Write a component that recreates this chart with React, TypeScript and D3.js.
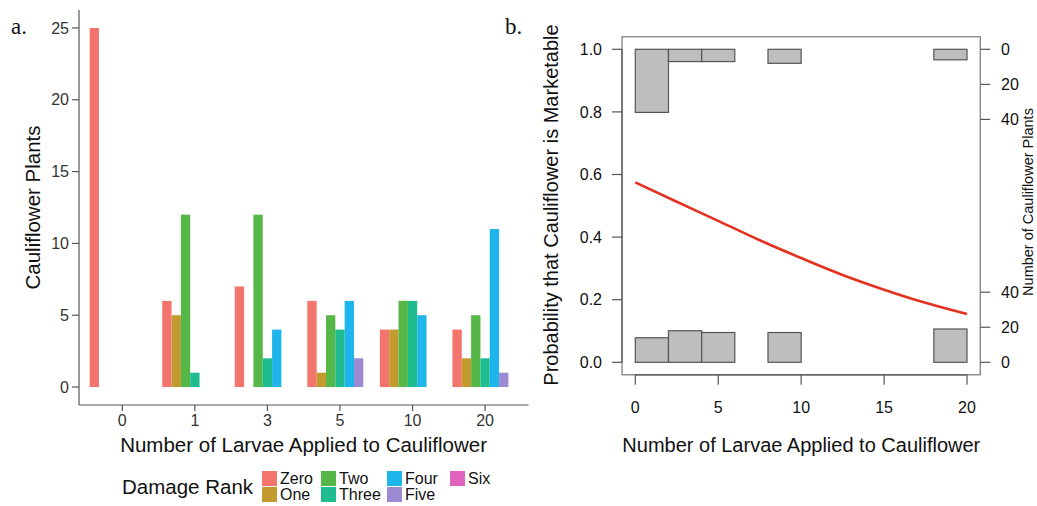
import React from "react";
import * as d3 from "d3";

// ---------- Panel a data ----------
const larvae = ["0", "1", "3", "5", "10", "20"];
const ranks = ["Zero", "One", "Two", "Three", "Four", "Five", "Six"];
const rankColors = ["#F2746C", "#C39A2E", "#55B748", "#1EBC8F", "#1DB5EA", "#9C8BD2", "#E063C0"];
const zeroCounts = [25, 6, 7, 6, 4, 4];
const oneCounts = [0, 5, 0, 1, 4, 2];
const twoCounts = [0, 12, 12, 5, 6, 5];
const threeCounts = [0, 1, 2, 4, 6, 2];
const fourCounts = [0, 0, 4, 6, 5, 11];
const fiveCounts = [0, 0, 0, 2, 0, 1];
const sixCounts = [0, 0, 0, 0, 0, 0];
const countSeries = [zeroCounts, oneCounts, twoCounts, threeCounts, fourCounts, fiveCounts, sixCounts];
const yTicksA = [0, 5, 10, 15, 20, 25];

// ---------- Panel b data ----------
const curveX = [0, 2.5, 5, 7.5, 10, 12.5, 15, 17.5, 20];
const curveP = [0.575, 0.513, 0.452, 0.39, 0.333, 0.279, 0.232, 0.19, 0.154];
const binStarts = [0, 2, 4, 8, 18];
const binWidth = 2;
const marketableCounts = [36, 7, 7, 8, 6];
const unmarketableCounts = [14, 18, 17, 17, 19];
const xTicksB = [0, 5, 10, 15, 20];
const yTicksB = [0, 0.2, 0.4, 0.6, 0.8, 1.0];
const countTicks = [0, 20, 40];
const probPerCount = 0.0056;

const SANS = "'Liberation Sans', Arial, Helvetica, sans-serif";
const SERIF = "'Liberation Serif', 'Times New Roman', serif";

export default function App() {
  // Panel a scales
  const xA = d3.scalePoint<string>().domain(larvae).range([122.3, 485.1]);
  const stepA = xA.step();
  const inner = d3.scaleBand<string>().domain(ranks).range([-0.45 * stepA, 0.45 * stepA]);
  const yA = d3.scaleLinear().domain([-1.25, 26.25]).range([405, 10]);

  // Panel b scales
  const xB = d3.scaleLinear().domain([0, 20]).range([635.3, 967]);
  const yB = d3.scaleLinear().domain([0, 1]).range([362.3, 49.3]);
  const boxL = xB(-0.8), boxR = xB(20.8), boxT = yB(1.04), boxB = yB(-0.04);
  const line = d3
    .line<number>()
    .x((_, i) => xB(curveX[i]))
    .y((d) => yB(d))
    .curve(d3.curveMonotoneX);

  const legendCols = [
    [0, 1],
    [2, 3],
    [4, 5],
    [6],
  ];
  const legendColX = [262, 321, 387, 450];
  const legendRowY = [471, 487];

  const axisCol = "#555";
  const tickTextCol = "#333";

  return (
    <svg width={1037} height={506} style={{ position: "absolute", left: 0, top: 0, background: "#fff" }}>
      <rect x={0} y={0} width={1037} height={506} fill="#fff" />
      {/* ================= Panel a ================= */}
      <text x={11} y={34} fontFamily={SERIF} fontSize={23} fill="#111">a.</text>
      {/* bars */}
      {countSeries.map((series, ri) =>
        series.map((v, gi) =>
          v > 0 ? (
            <rect
              key={`b${ri}-${gi}`}
              x={(xA(larvae[gi]) as number) + (inner(ranks[ri]) as number)}
              width={inner.bandwidth()}
              y={yA(v)}
              height={yA(0) - yA(v)}
              fill={rankColors[ri]}
            />
          ) : null
        )
      )}
      {/* axes */}
      <line x1={79} x2={79} y1={yA(26.25)} y2={yA(-1.25)} stroke={axisCol} strokeWidth={1.2} />
      <line x1={79} x2={528.6} y1={405} y2={405} stroke={axisCol} strokeWidth={1.2} />
      {yTicksA.map((t) => (
        <g key={`ya${t}`}>
          <line x1={72} x2={79} y1={yA(t)} y2={yA(t)} stroke={axisCol} strokeWidth={1.2} />
          <text x={69} y={yA(t)} dy="0.35em" textAnchor="end" fontFamily={SANS} fontSize={16} fill={tickTextCol}>
            {t}
          </text>
        </g>
      ))}
      {larvae.map((l) => (
        <g key={`xa${l}`}>
          <line x1={xA(l)} x2={xA(l)} y1={405} y2={411} stroke={axisCol} strokeWidth={1.2} />
          <text x={xA(l)} y={420} dy="0.35em" textAnchor="middle" fontFamily={SANS} fontSize={16} fill={tickTextCol}>
            {l}
          </text>
        </g>
      ))}
      <text
        transform={`translate(33,${(yA(26.25) + yA(-1.25)) / 2}) rotate(-90)`}
        textAnchor="middle"
        dy="0.35em"
        fontFamily={SANS}
        fontSize={20.5}
        fill="#111"
      >
        Cauliflower Plants
      </text>
      <text x={303.6} y={445} dy="0.35em" textAnchor="middle" fontFamily={SANS} fontSize={20.5} fill="#111">
        Number of Larvae Applied to Cauliflower
      </text>
      {/* legend */}
      <text x={122} y={487} dy="0.35em" fontFamily={SANS} fontSize={20.5} fill="#111">
        Damage Rank
      </text>
      {legendCols.map((col, ci) =>
        col.map((ri, rowi) => (
          <g key={`lg${ri}`}>
            <rect x={legendColX[ci]} y={legendRowY[rowi]} width={15} height={15} fill={rankColors[ri]} />
            <text
              x={legendColX[ci] + 18}
              y={legendRowY[rowi] + 7.5}
              dy="0.35em"
              fontFamily={SANS}
              fontSize={16}
              fill="#111"
            >
              {ranks[ri]}
            </text>
          </g>
        ))
      )}

      {/* ================= Panel b ================= */}
      <text x={505} y={34} fontFamily={SERIF} fontSize={23} fill="#111">b.</text>
      {/* histograms */}
      {binStarts.map((b, i) => (
        <rect
          key={`hm${i}`}
          x={xB(b)}
          width={xB(b + binWidth) - xB(b)}
          y={yB(1)}
          height={yB(1 - marketableCounts[i] * probPerCount) - yB(1)}
          fill="#BEBEBE"
          stroke="#555"
          strokeWidth={1.2}
        />
      ))}
      {binStarts.map((b, i) => (
        <rect
          key={`hu${i}`}
          x={xB(b)}
          width={xB(b + binWidth) - xB(b)}
          y={yB(unmarketableCounts[i] * probPerCount)}
          height={yB(0) - yB(unmarketableCounts[i] * probPerCount)}
          fill="#BEBEBE"
          stroke="#555"
          strokeWidth={1.2}
        />
      ))}
      {/* curve */}
      <path d={line(curveP) || ""} fill="none" stroke="#E3321F" strokeWidth={2.6} />
      {/* box */}
      <rect x={boxL} y={boxT} width={boxR - boxL} height={boxB - boxT} fill="none" stroke="#777" strokeWidth={1.2} />
      {/* left axis */}
      <line x1={boxL} x2={boxL} y1={yB(0)} y2={yB(1)} stroke={axisCol} strokeWidth={1.2} />
      {yTicksB.map((t) => (
        <g key={`yb${t}`}>
          <line x1={boxL - 10} x2={boxL} y1={yB(t)} y2={yB(t)} stroke={axisCol} strokeWidth={1.2} />
          <text x={602} y={yB(t)} dy="0.35em" textAnchor="end" fontFamily={SANS} fontSize={16} fill="#111">
            {t.toFixed(1)}
          </text>
        </g>
      ))}
      {/* bottom axis */}
      <line x1={xB(0)} x2={xB(20)} y1={boxB} y2={boxB} stroke={axisCol} strokeWidth={1.2} />
      {xTicksB.map((t) => (
        <g key={`xb${t}`}>
          <line x1={xB(t)} x2={xB(t)} y1={boxB} y2={boxB + 10} stroke={axisCol} strokeWidth={1.2} />
          <text x={xB(t)} y={407} dy="0.35em" textAnchor="middle" fontFamily={SANS} fontSize={16} fill="#111">
            {t}
          </text>
        </g>
      ))}
      {/* right axis: counts */}
      {countTicks.map((c) => (
        <g key={`rt${c}`}>
          <line x1={boxR} x2={boxR + 10} y1={yB(1 - c * probPerCount)} y2={yB(1 - c * probPerCount)} stroke={axisCol} strokeWidth={1.2} />
          <text x={1001} y={yB(1 - c * probPerCount)} dy="0.35em" fontFamily={SANS} fontSize={16} fill="#111">
            {c}
          </text>
          <line x1={boxR} x2={boxR + 10} y1={yB(c * probPerCount)} y2={yB(c * probPerCount)} stroke={axisCol} strokeWidth={1.2} />
          <text x={1001} y={yB(c * probPerCount)} dy="0.35em" fontFamily={SANS} fontSize={16} fill="#111">
            {c}
          </text>
        </g>
      ))}
      <text
        transform={`translate(1028,202) rotate(-90)`}
        textAnchor="middle"
        dy="0.35em"
        fontFamily={SANS}
        fontSize={14.5}
        fill="#111"
      >
        Number of Cauliflower Plants
      </text>
      <text
        transform={`translate(551,205) rotate(-90)`}
        textAnchor="middle"
        dy="0.35em"
        fontFamily={SANS}
        fontSize={20}
        fill="#111"
      >
        Probability that Cauliflower is Marketable
      </text>
      <text x={801.3} y={445} dy="0.35em" textAnchor="middle" fontFamily={SANS} fontSize={20} fill="#111">
        Number of Larvae Applied to Cauliflower
      </text>
    </svg>
  );
}
